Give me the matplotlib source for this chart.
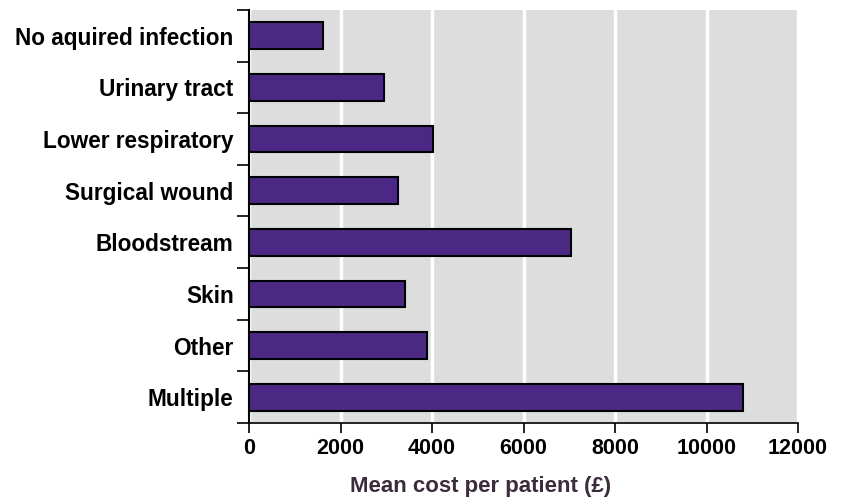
import matplotlib
matplotlib.use("Agg")
import matplotlib.pyplot as plt
import numpy as np

plt.rcParams['font.family'] = ['Liberation Sans', 'DejaVu Sans']

categories = ["No aquired infection", "Urinary tract", "Lower respiratory",
              "Surgical wound", "Bloodstream", "Skin", "Other", "Multiple"]
costs = [1620, 2950, 4020, 3260, 7040, 3410, 3890, 10800]
xticks = [0, 2000, 4000, 6000, 8000, 10000, 12000]

fig = plt.figure(figsize=(8.43, 4.99), dpi=100)
ax = fig.add_axes([249/843, 1-423/499, 549/843, 413/499])

ax.set_facecolor("#dddddd")
y = np.arange(len(categories))
ax.barh(y, costs, height=0.52, color="#4a2884", edgecolor="black",
        linewidth=1.5, zorder=3)

ax.set_xlim(0, 12000)
ax.set_ylim(len(categories) - 0.5, -0.5)
ax.set_xticks(xticks)
ax.set_xticklabels([str(t) for t in xticks], fontsize=15.5, fontweight="bold")
ax.set_yticks(y)
ax.set_yticklabels(categories, fontsize=16.3, fontweight="bold")
ax.set_yticks(np.arange(len(categories) + 1) - 0.5, minor=True)
ax.tick_params(axis="y", which="major", length=0, pad=11)
ax.tick_params(axis="y", which="minor", length=8.6, width=1.2, direction="out")
ax.tick_params(axis="x", length=7, width=1.2, pad=4)

ax.grid(axis="x", color="white", linewidth=2.5, zorder=1)
ax.set_axisbelow(True)

for s in ["top", "right"]:
    ax.spines[s].set_visible(False)
ax.spines["left"].set_linewidth(1.5)
ax.spines["bottom"].set_linewidth(1.2)

ax.set_xlabel("Mean cost per patient (£)", fontsize=16, fontweight="bold",
              color="#3b2b3b")
ax.xaxis.set_label_coords(232/549, -0.128)

fig.savefig("out.png", dpi=100)
